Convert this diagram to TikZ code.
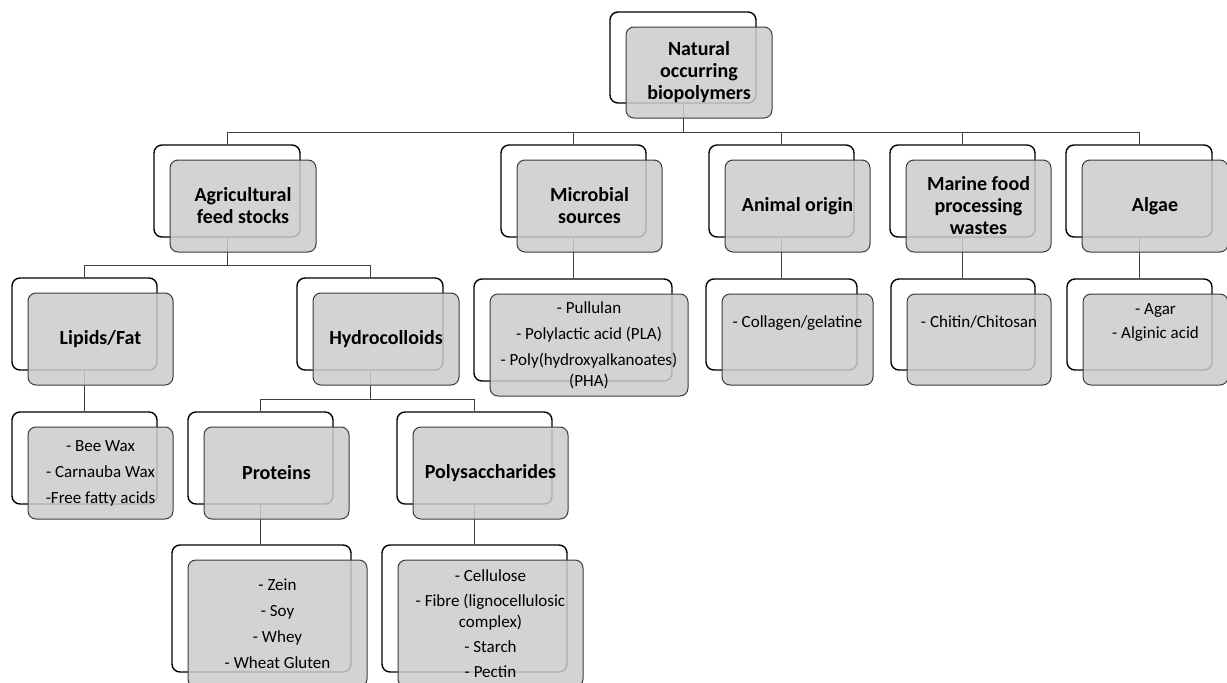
\documentclass[tikz,border=0pt]{standalone}
\usepackage{fontspec}
\setmainfont{Carlito}
\pgfdeclarelayer{whites}
\pgfdeclarelayer{lines}
\pgfsetlayers{whites,lines,main}
\definecolor{boxgray}{RGB}{204,204,204}
\definecolor{edgegray}{RGB}{60,60,60}
\definecolor{linegray}{RGB}{64,64,64}
\tikzset{
  backbox/.style={draw=black, line width=1.4pt, rounded corners=8pt, fill=white, inner sep=0pt},
  frontbox/.style={draw=edgegray, line width=1pt, rounded corners=8pt, fill=boxgray, fill opacity=0.86, draw opacity=1, text opacity=1, inner sep=0pt, align=center, text=black},
  head/.style={font=\fontsize{20}{22}\selectfont\bfseries},
  leaf/.style={font=\fontsize{17}{21}\selectfont},
  highleaf/.style={leaf, text depth=36pt},
  conn/.style={draw=linegray, line width=1pt},
}
% #1 name, #2 x1, #3 y1, #4 x2, #5 y2 (back box), #6 style, #7 text
\newcommand\mkbox[7]{%
  \begin{pgfonlayer}{whites}
  \node[backbox, minimum width={(#4-(#2))*1pt}, minimum height={(#5-(#3))*1pt}] (#1b) at ({(#2+#4)/2},{(#3+#5)/2}) {};
  \end{pgfonlayer}
  \node[frontbox, #6, minimum width={(#4-(#2))*1pt}, minimum height={(#5-(#3))*1pt}] (#1) at ({(#2+#4)/2+16},{(#3+#5)/2+15}) {#7};
}
\begin{document}
\begin{tikzpicture}[x=1pt,y=-1pt]
\clip (0,0) rectangle (1227,683);
\begin{pgfonlayer}{whites}
\fill[white] (0,0) rectangle (1227,683);
\end{pgfonlayer}
% top
\mkbox{root}{610}{12}{756}{103}{head}{Natural\\occurring\\biopolymers}
% level 1
\mkbox{agri}{154}{145}{300}{237}{head}{Agricultural\\feed stocks}
\mkbox{micro}{501}{145}{646}{237}{head}{Microbial\\sources}
\mkbox{anim}{709}{145}{854}{237}{head}{Animal origin}
\mkbox{mar}{890}{145}{1035}{237}{head}{Marine food\\processing\\wastes}
\mkbox{alg}{1066}{145}{1212}{237}{head}{Algae}
% level 2
\mkbox{lip}{12}{278}{157}{370}{head}{Lipids/Fat}
\mkbox{hyd}{297}{278}{443}{370}{head}{Hydrocolloids}
\mkbox{microL}{474}{279}{672}{381}{leaf}{- Pullulan\\[5pt]- Polylactic acid (PLA)\\[5pt]- Poly(hydroxyalkanoates)\\(PHA)}
\mkbox{animL}{706}{279}{857}{370}{highleaf}{- Collagen/gelatine}
\mkbox{marL}{891}{279}{1035}{370}{highleaf}{- Chitin/Chitosan}
\mkbox{algL}{1067}{279}{1212}{370}{highleaf}{- Agar\\[3pt]- Alginic acid}
% level 3
\mkbox{lipL}{12}{412}{157}{504}{leaf}{- Bee Wax\\[5pt]- Carnauba Wax\\[5pt]-Free fatty acids}
\mkbox{prot}{188}{412}{333}{504}{head}{Proteins}
\mkbox{poly}{397}{412}{552}{504}{head}{Polysaccharides}
% level 4
\mkbox{protL}{172}{545}{351}{672}{leaf}{- Zein\\[5pt]- Soy\\[5pt]- Whey\\[5pt]- Wheat Gluten}
\mkbox{polyL}{382}{545}{567}{672}{leaf}{- Cellulose\\[4pt]- Fibre (lignocellulosic\\complex)\\[4pt]- Starch\\[4pt]- Pectin}
% connectors
\begin{pgfonlayer}{lines}
\coordinate (busA) at (0,132);
\coordinate (busB) at (0,265);
\coordinate (busC) at (0,399);
\foreach \c in {agrib,microb,animb,marb,algb}
  \draw[conn] (rootb.south) -- (rootb.south |- busA) -| (\c.north);
\foreach \c in {lipb,hydb}
  \draw[conn] (agrib.south) -- (agrib.south |- busB) -| (\c.north);
\foreach \c in {protb,polyb}
  \draw[conn] (hydb.south) -- (hydb.south |- busC) -| (\c.north);
\draw[conn] (microb.south) -- (microLb.north -| microb.south);
\draw[conn] (animb.south) -- (animLb.north -| animb.south);
\draw[conn] (marb.south) -- (marLb.north -| marb.south);
\draw[conn] (algb.south) -- (algLb.north -| algb.south);
\draw[conn] (lipb.south) -- (lipLb.north -| lipb.south);
\draw[conn] (protb.south) -- (protLb.north -| protb.south);
\draw[conn] (polyb.south) -- (polyLb.north -| polyb.south);
\end{pgfonlayer}
\end{tikzpicture}
\end{document}
